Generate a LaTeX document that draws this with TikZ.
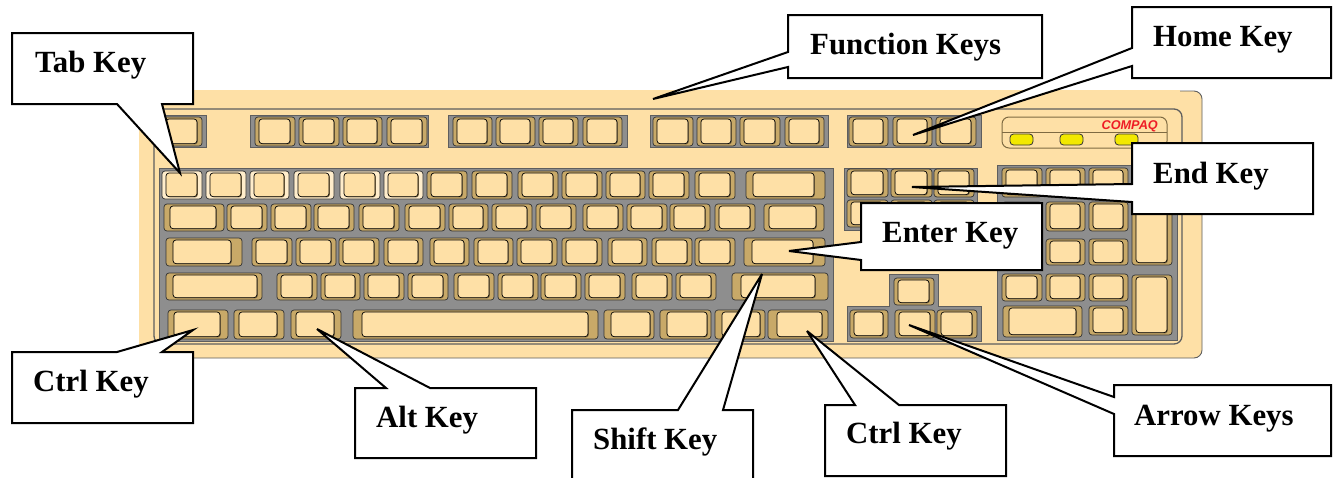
\documentclass[tikz,border=0pt]{standalone}
\usepackage{fontspec}
\setmainfont{Liberation Serif}
\newfontfamily\logofont{Liberation Sans}
\definecolor{bodycol}{HTML}{FEE0A6}
\definecolor{ringcol}{HTML}{C8A968}
\definecolor{lightring}{HTML}{FFEDCB}
\definecolor{shadecol}{HTML}{7E6A42}
\definecolor{panelcol}{HTML}{8E8E8E}
\definecolor{framecol}{HTML}{5E5E5E}
\definecolor{ledcol}{HTML}{F2E800}
\definecolor{logocol}{HTML}{EE1C25}
\tikzset{
  keyouter/.style={draw=black!80,line width=0.7pt,rounded corners=3pt},
  keyshade/.style={fill=shadecol,rounded corners=3pt},
  keyinner/.style={draw=black,line width=0.7pt,fill=bodycol,rounded corners=3pt},
  panel/.style={fill=panelcol,draw=framecol,line width=1pt},
  frameline/.style={draw=framecol,line width=1.3pt},
  callout/.style={draw=black,fill=white,line width=2pt,miter limit=6},
  lbl/.style={anchor=base west,inner sep=0pt,font=\fontsize{30.8}{33}\selectfont\bfseries,text=black},
  led/.style={fill=ledcol,draw=black!80,line width=0.8pt,rounded corners=3.5pt}
}
% ring colour; x1 x2 y1 y2; left and right inset of the cap
\newcommand\keycap[7][ringcol]{%
  \draw[keyouter,fill=#1] (#2,#4) rectangle (#3,#5);
  \fill[keyshade] (#2+#6+1,#4+3) rectangle (#3-#7+0.9,#5-1.6);
  \draw[keyinner] (#2+#6,#4+2) rectangle (#3-#7,#5-2.4);
}
\newcommand\keyrow[3]{\foreach \a/\b in {#3}{\keycap{\a}{\b}{#1}{#2}{4}{5}}}
\begin{document}
\begin{tikzpicture}[x=1pt,y=-1pt]
\clip (0,0) rectangle (1336,477);
\fill[white] (0,0) rectangle (1336,477);
% case
\fill[bodycol,rounded corners=8pt] (139,91) rectangle (1202,358);
\fill[bodycol] (139,91) rectangle (160,358);
\draw[framecol,line width=0.9pt,rounded corners=8pt] (1180,91) -- (1202,91) -- (1202,358) -- (139,358);
\draw[bodycol,line width=1.2pt] (150,91) -- (1180,91);
\draw[frameline,rounded corners=8pt] (154,109) rectangle (1182,344);
% function row
\foreach \a/\b in {159/206,250/428,448/627,650/828,847/981}{\draw[panel] (\a,115) rectangle (\b,147);}
\keyrow{117}{146}{162/202,255/295,299/339,343/382,387/427,453/492,496/535,539/578,583/622,653/693,697/736,740/780,785/824,849/888,893/932,936/976}
% main block
\draw[panel] (159,168) rectangle (833,341);
\foreach \a/\b in {162/202,206/246,250/289,294/334,340/380,384/423}{\keycap[lightring]{\a}{\b}{171}{199}{4}{5}}
\keyrow{171}{199}{427/467,472/512,518/558,562/602,606/645,649/689,695/735}
\keycap{746}{825}{171}{199}{7}{11}
\keycap{164}{224}{204}{231}{6}{8}
\keyrow{204}{231}{227/267,271/311,314/354,359/399,405/445,449/488,492/532,536/576,583/623,627/667,670/710,715/755}
\keycap{764}{824}{204}{231}{5}{8}
\keycap{166}{242}{238}{266}{7}{11}
\keyrow{238}{266}{252/292,296/336,339/379,384/423,430/469,474/513,517/557,562/602,608/647,652/692,695/735}
\keycap{744}{825}{238}{266}{8}{12}
\keycap{166}{262}{273}{300}{7}{5}
\keyrow{273}{300}{277/317,321/360,364/404,408/448,454/494,498/538,541/581,585/625,632/672,676/716}
\keycap{732}{828}{273}{300}{9}{13}
\keycap{168}{228}{310}{339}{6}{8}
\keycap{234}{284}{310}{339}{5}{7}
\keycap{291}{341}{310}{339}{5}{7}
\keycap{353}{598}{310}{339}{9}{10}
\keycap{604}{654}{310}{339}{7}{4}
\keycap{660}{711}{310}{339}{7}{4}
\keycap{715}{765}{310}{339}{7}{5}
\keycap{768}{828}{310}{339}{9}{6}
% navigation block
\draw[panel] (844,168) rectangle (977,230);
\keyrow{169}{197}{847/888,891/932,934/974}
\keyrow{200}{227}{847/888,891/932,934/974}
% arrow block
\draw[panel] (889,306) -- (889,274) -- (938,274) -- (938,306) -- (981,306) -- (981,341) -- (847,341) -- (847,306) -- cycle;
\keyrow{278}{305}{894/934}
\keyrow{310}{338}{850/888,895/935,937/977}
% numeric block
\draw[panel] (997,165) rectangle (1177,340);
\keyrow{168}{197}{1002/1042,1046/1085,1089/1128,1132/1172}
\keyrow{202}{231}{1002/1042,1046/1085,1089/1128}
\keyrow{239}{265}{1002/1042,1046/1085,1089/1128}
\keyrow{274}{301}{1002/1042,1046/1085,1089/1128}
\keycap{1132}{1172}{202}{265}{4}{5}
\keycap{1132}{1172}{275}{335}{4}{5}
\keycap{1003}{1082}{306}{337}{6}{6}
\keyrow{306}{335}{1089/1128}
% indicator strip
\draw[draw=shadecol,line width=1pt,rounded corners=7pt] (1002,117) rectangle (1167,148);
\draw[draw=shadecol,line width=1pt] (1002,132) -- (1167,132);
\foreach \a in {1010,1060,1115}{\draw[led] (\a,134) rectangle (\a+23,145);}
\node[anchor=base east,inner sep=0pt,text=logocol,font=\fontsize{12.7}{13}\selectfont\logofont\bfseries\itshape] (logo) at (1158,129) {COMPAQ};
% callouts
\draw[callout] (12,33) -- (193,33) -- (193,104) -- (162,104) -- (180,173) -- (117,104) -- (12,104) -- cycle;
\node[lbl] (tabkey) at (35,72) {Tab Key};
\draw[callout] (788,15) -- (1042,15) -- (1042,78) -- (788,78) -- (788,67) -- (653,99) -- (788,52) -- cycle;
\node[lbl] (fnkeys) at (810,54) {Function Keys};
\draw[callout] (1132,7) -- (1331,7) -- (1331,78) -- (1132,78) -- (1132,66) -- (913,135) -- (1132,48) -- cycle;
\node[lbl] (homekey) at (1153,46) {Home Key};
\draw[callout] (1132,143) -- (1313,143) -- (1313,214) -- (1132,214) -- (1132,202) -- (912,187) -- (1132,184) -- cycle;
\node[lbl] (endkey) at (1153,183) {End Key};
\draw[callout] (861,203) -- (1042,203) -- (1042,270) -- (861,270) -- (861,260) -- (789,251) -- (861,242) -- cycle;
\node[lbl] (enterkey) at (882,242) {Enter Key};
\draw[callout] (12,352) -- (117,352) -- (193,330) -- (162,352) -- (193,352) -- (193,423) -- (12,423) -- cycle;
\node[lbl] (ctrlleft) at (33,391) {Ctrl Key};
\draw[callout] (355,388) -- (386,388) -- (317,329) -- (430,388) -- (536,388) -- (536,458) -- (355,458) -- cycle;
\node[lbl] (altkey) at (376,427) {Alt Key};
\draw[callout] (572,410) -- (678,410) -- (762,274) -- (723,410) -- (753,410) -- (753,490) -- (572,490) -- cycle;
\node[lbl] (shiftkey) at (593,449) {Shift Key};
\draw[callout] (825,405) -- (855,405) -- (807,331) -- (899,405) -- (1006,405) -- (1006,476) -- (825,476) -- cycle;
\node[lbl] (ctrlright) at (846,443) {Ctrl Key};
\draw[callout] (1114,385) -- (1331,385) -- (1331,456) -- (1114,456) -- (1114,414) -- (909,325) -- (1114,397) -- cycle;
\node[lbl] (arrowkeys) at (1134,425) {Arrow Keys};
\end{tikzpicture}
\end{document}
